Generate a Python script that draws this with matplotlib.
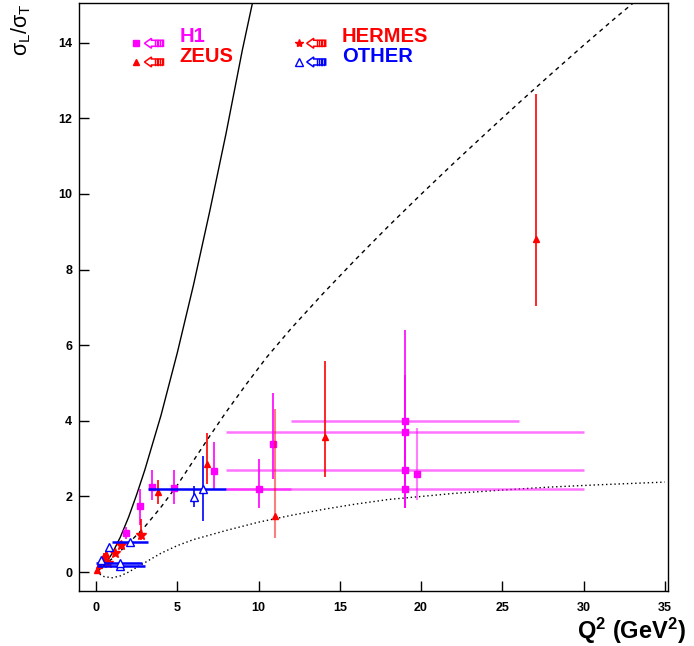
import matplotlib
matplotlib.use("Agg")
import matplotlib.pyplot as plt
from matplotlib.patches import Polygon
import numpy as np

plt.rcParams['font.family'] = ['Liberation Sans', 'DejaVu Sans']
plt.rcParams['mathtext.fontset'] = 'custom'
plt.rcParams['mathtext.rm'] = 'Liberation Sans'
plt.rcParams['mathtext.it'] = 'Liberation Sans'
plt.rcParams['mathtext.bf'] = 'Liberation Sans:bold'

MAGENTA = '#ff00ff'
RED = '#ff0000'
BLUE = '#0000ff'

# model curves
solid_q2 = [0, 0.5, 1.0, 1.5, 2.0, 2.5, 3.0, 4.0, 5.0, 6.0, 7.0, 8.0, 9.0, 9.7]
solid_r = [0, 0.17, 0.5, 0.93, 1.45, 2.05, 2.7, 4.15, 5.8, 7.6, 9.55, 11.6, 13.8, 15.2]

dashed_q2 = [0, 1, 2, 3, 4, 5, 6, 7, 8, 9.3, 10.5, 12, 14, 16, 18, 20, 22, 24, 26, 28,
             30, 32, 33.2]
dashed_r = [0, 0.36, 0.76, 1.2, 1.72, 2.3, 2.95, 3.6, 4.23, 5.0, 5.68, 6.44, 7.38, 8.28,
            9.15, 9.99, 10.81, 11.61, 12.4, 13.17, 13.93, 14.67, 15.1]

dotted_q2 = [0, 0.5, 1, 1.5, 2, 3, 4, 5, 6, 7, 8, 10, 12, 14, 16, 18, 20, 22, 25, 28, 31, 35]
dotted_r = [0, -0.12, -0.15, -0.1, 0.0, 0.25, 0.5, 0.7, 0.86, 0.98, 1.1, 1.32, 1.5, 1.66,
            1.8, 1.92, 2.0, 2.08, 2.17, 2.25, 2.31, 2.38]

# H1: x, y, x low, x high, y low, y high
h1_q2 = [1.84, 2.7, 3.44, 4.79, 7.24, 10.0, 10.9, 19.0, 19.0, 19.0, 19.0, 19.75]
h1_r = [1.03, 1.74, 2.24, 2.22, 2.67, 2.19, 3.38, 4.0, 3.7, 2.7, 2.2, 2.59]
h1_xlo = [1.84, 2.7, 3.44, 4.79, 7.24, 8.0, 10.9, 12.0, 8.0, 8.0, 8.0, 19.75]
h1_xhi = [1.84, 2.7, 3.44, 4.79, 7.24, 12.0, 10.9, 26.0, 30.0, 30.0, 30.0, 19.75]
h1_rlo = [0.88, 1.25, 1.9, 1.8, 2.17, 1.69, 2.46, 2.9, 2.4, 1.7, 1.7, 1.9]
h1_rhi = [1.2, 2.2, 2.7, 2.7, 3.43, 2.98, 4.73, 6.4, 5.2, 3.8, 2.8, 3.8]
h1_faint = [False, False, False, False, False, False, False, False, False, False, False, True]

# ZEUS
zeus_q2 = [0.06, 0.2, 0.3, 0.4, 0.5, 0.6, 3.8, 6.8, 11.0, 14.1, 27.05]
zeus_r = [0.05, 0.2, 0.3, 0.36, 0.42, 0.48, 2.11, 2.85, 1.48, 3.57, 8.82]
zeus_rlo = [0.03, 0.15, 0.24, 0.3, 0.35, 0.4, 1.8, 2.32, 0.9, 2.51, 7.03]
zeus_rhi = [0.07, 0.25, 0.36, 0.43, 0.5, 0.56, 2.43, 3.67, 4.3, 5.57, 12.65]
zeus_faint = [False, False, False, False, False, False, False, False, True, False, False]

# HERMES
hermes_q2 = [0.74, 1.15, 1.53, 2.74]
hermes_r = [0.24, 0.5, 0.71, 0.98]
hermes_rlo = [0.17, 0.42, 0.6, 0.85]
hermes_rhi = [0.31, 0.58, 0.82, 1.4]

# OTHER
other_q2 = [0.3, 0.78, 2.06, 1.47, 1.5, 6.0, 6.6]
other_r = [0.32, 0.66, 0.8, 0.15, 0.24, 1.98, 2.19]
other_xlo = [0.3, 0.78, 1.0, 0.06, 0.0, 6.0, 3.2]
other_xhi = [0.3, 0.78, 3.2, 3.0, 2.8, 6.0, 8.0]
other_rlo = [0.28, 0.6, 0.74, 0.1, 0.2, 1.72, 1.35]
other_rhi = [0.36, 0.72, 0.86, 0.2, 0.28, 2.27, 3.06]

fig = plt.figure(figsize=(6.94, 6.46), dpi=100)
ax = fig.add_axes([79 / 694, 55 / 646, 589 / 694, 588 / 646])

ax.plot(solid_q2, solid_r, color='black', lw=1.0)
ax.plot(dashed_q2, dashed_r, color='black', lw=1.0, ls=(0, (3, 3)))
ax.plot(dotted_q2, dotted_r, color='black', lw=1.0, ls=(0, (1, 2)))


def draw_set(x, y, xlo, xhi, ylo, yhi, color, marker, ms, mfc, alpha_x=1.0, faint=None):
    x = np.array(x)
    y = np.array(y)
    xerr = [x - np.array(xlo), np.array(xhi) - x]
    yerr = [y - np.array(ylo), np.array(yhi) - y]
    ax.errorbar(x, y, xerr=xerr, fmt='none', ecolor=color, elinewidth=1.8,
                capsize=0, alpha=alpha_x)
    if faint is None:
        faint = [False] * len(x)
    faint = np.array(faint)
    for sel, a in [(~faint, 1.0), (faint, 0.5)]:
        if sel.any():
            ax.errorbar(x[sel], y[sel], yerr=[yerr[0][sel], yerr[1][sel]], fmt='none',
                        ecolor=color, elinewidth=1.5 if a < 1 else 1.2, capsize=0, alpha=a)
    ax.plot(x, y, ls='none', marker=marker, ms=ms, color=color, mfc=mfc,
            mec=color, mew=1.0)


draw_set(h1_q2, h1_r, h1_xlo, h1_xhi, h1_rlo, h1_rhi, MAGENTA, 's', 5, MAGENTA, 0.55, h1_faint)
draw_set(zeus_q2, zeus_r, zeus_q2, zeus_q2, zeus_rlo, zeus_rhi, RED, '^', 4.5, RED,
         faint=zeus_faint)
draw_set(hermes_q2, hermes_r, hermes_q2, hermes_q2, hermes_rlo, hermes_rhi, RED, '*', 7, RED)
draw_set(other_q2, other_r, other_xlo, other_xhi, other_rlo, other_rhi, BLUE, '^', 6, 'white')

ax.set_xlim(-1.05, 35.2)
ax.set_ylim(-0.5, 15.05)
ax.set_xticks(range(0, 36, 5))
ax.set_yticks(range(0, 15, 2))
ax.tick_params(direction='in', length=7, width=1, labelsize=9, top=False, right=False)
ax.tick_params(axis='x', pad=8)
ax.tick_params(axis='y', pad=5)
for lab in ax.get_xticklabels() + ax.get_yticklabels():
    lab.set_fontweight('bold')
for sp in ax.spines.values():
    sp.set_linewidth(1.0)


def legend_arrow(fx, fy, color):
    # hollow left arrow with striped tail, sizes in pixels of the axes
    sx, sy = 1 / 589, 1 / 588
    pts = [(0, 0), (7, 5), (7, 3), (19, 3), (19, -3), (7, -3), (7, -5)]
    poly = Polygon([(fx + px * sx, fy + py * sy) for px, py in pts], closed=True,
                   fill=False, edgecolor=color, lw=1.1, transform=ax.transAxes)
    ax.add_patch(poly)
    for px in [10.5, 12.2, 13.9, 15.6, 17.3]:
        ax.plot([fx + px * sx, fx + px * sx], [fy - 3 * sy, fy + 3 * sy],
                color=color, lw=1.0, transform=ax.transAxes)


leg_rows = [(0.0976, 0.9315, 's', 5, MAGENTA, MAGENTA, 'H1', 0.9427),
            (0.0976, 0.8997, '^', 5, RED, RED, 'ZEUS', 0.909),
            (0.373, 0.9315, '*', 6, RED, RED, 'HERMES', 0.9427),
            (0.373, 0.8997, '^', 6, BLUE, 'white', 'OTHER', 0.909)]
for fx, fy, mk, ms, col, mfc, name, ty in leg_rows:
    ax.plot([fx], [fy], marker=mk, ms=ms, color=col, mfc=mfc, mec=col,
            transform=ax.transAxes, ls='none')
    legend_arrow(fx + 8 / 589, fy, col)
    ax.text(fx + 0.073, ty, name, color=col, fontsize=14.5, fontweight='bold',
            transform=ax.transAxes, ha='left', va='center')

fig.text(21 / 694, 1 - 30 / 646, r'$\mathrm{\sigma_L/\sigma_T}$', rotation=90, fontsize=15.5,
         ha='center', va='center')
fig.text(686 / 694, 1 - 631 / 646, r'$\mathbf{Q^2\ (GeV^2)}$', fontsize=17,
         ha='right', va='center')

fig.savefig('out.png', dpi=100)
